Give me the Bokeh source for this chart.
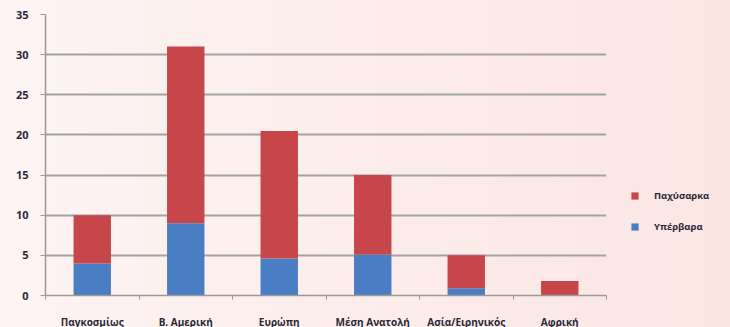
from bokeh.plotting import figure
from bokeh.models import ColumnDataSource, FixedTicker, Legend, LegendItem
from bokeh.embed import file_html
from bokeh.resources import INLINE

categories = ["Παγκοσμίως", "Β. Αμερική", "Ευρώπη", "Μέση Ανατολή", "Ασία/Ειρηνικός", "Αφρική"]
overweight = [4, 9, 4.6, 5.1, 0.9, 0]        # Υπέρβαρα (blue, bottom)
obese = [6, 22, 15.9, 9.9, 4.1, 1.8]         # Παχύσαρκα (red, top)
y_ticks = [0, 5, 10, 15, 20, 25, 30, 35]

xs = [i + 0.5 for i in range(len(categories))]
top_blue = overweight
top_red = [a + b for a, b in zip(overweight, obese)]

src = ColumnDataSource(dict(x=xs, b0=[0] * len(xs), b1=top_blue, r1=top_red))

p = figure(frame_width=561, frame_height=281, x_range=(0, 6), y_range=(0, 35),
           output_backend="svg", toolbar_location=None,
           min_border_left=45, min_border_top=14, min_border_bottom=32, min_border_right=0)
p.background_fill_color = None
p.border_fill_color = None
p.outline_line_color = None
p.styles = {"background": "linear-gradient(to right, #fdf4f3 0%, #fbe6e4 60%, #f8d6d3 100%)"}

red = "#c7464a"
blue = "#4a7ec4"
rb = p.vbar(x="x", bottom="b0", top="b1", width=0.4, source=src, fill_color=blue, line_color=None)
rr = p.vbar(x="x", bottom="b1", top="r1", width=0.4, source=src, fill_color=red, line_color=None)

# axes
p.xaxis.ticker = FixedTicker(ticks=xs, minor_ticks=list(range(0, 7)))
p.xaxis.major_label_overrides = {x: c for x, c in zip(xs, categories)}
p.xaxis.major_tick_line_color = None
p.xaxis.minor_tick_out = 4
p.xaxis.minor_tick_in = 0
p.xaxis.minor_tick_line_color = "#9a9a9a"
p.xaxis.axis_line_color = "#9a9a9a"
p.xaxis.axis_line_width = 1.5
p.xaxis.major_label_standoff = 13
p.xaxis.major_label_text_font = "Open Sans"
p.xaxis.major_label_text_font_style = "bold"
p.xaxis.major_label_text_font_size = "10px"
p.xaxis.major_label_text_color = "#2a2a3a"

p.yaxis.ticker = FixedTicker(ticks=y_ticks)
p.yaxis.minor_tick_line_color = None
p.yaxis.major_tick_out = 5
p.yaxis.major_tick_in = 0
p.yaxis.major_tick_line_color = "#9a9a9a"
p.yaxis.axis_line_color = "#9a9a9a"
p.yaxis.axis_line_width = 1.5
p.yaxis.major_label_standoff = 12
p.yaxis.major_label_text_font = "Open Sans"
p.yaxis.major_label_text_font_style = "bold"
p.yaxis.major_label_text_font_size = "11px"
p.yaxis.major_label_text_color = "#2a2a3a"

p.xgrid.grid_line_color = None
p.ygrid.grid_line_color = "#a3a3a3"
p.ygrid.grid_line_width = 2

legend = Legend(items=[LegendItem(label="Παχύσαρκα", renderers=[rr]),
                       LegendItem(label="Υπέρβαρα", renderers=[rb])],
                location=(24, 62))
legend.background_fill_color = None
legend.border_line_color = None
legend.label_text_font = "Open Sans"
legend.label_text_font_style = "bold"
legend.label_text_font_size = "9.5px"
legend.label_text_color = "#2a2a3a"
legend.glyph_width = 9
legend.glyph_height = 9
legend.spacing = 18
legend.label_standoff = 15
legend.margin = 0
legend.padding = 0
p.add_layout(legend, "right")

open("out.html", "w").write(file_html(p, INLINE))
